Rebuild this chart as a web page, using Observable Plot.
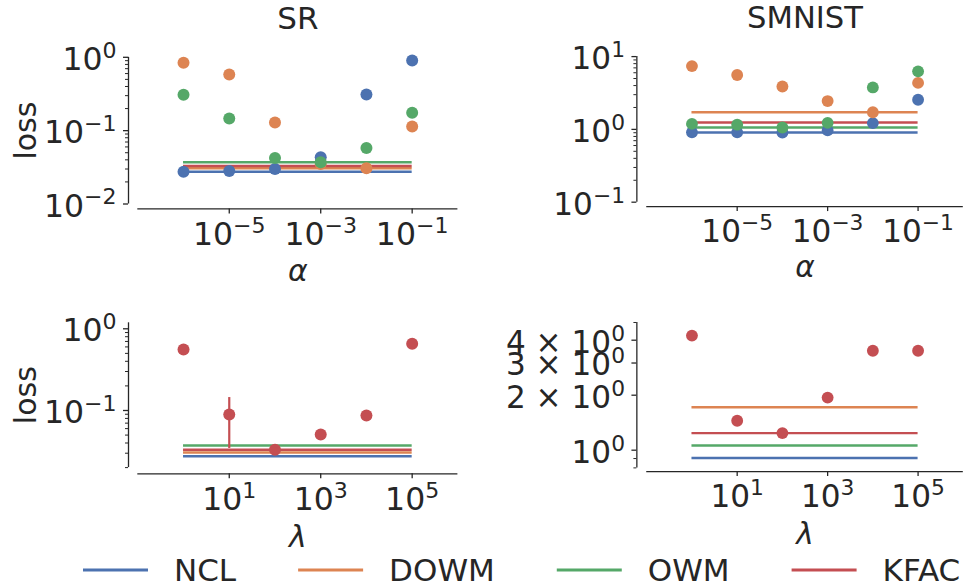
<!DOCTYPE html>
<html>
<head>
<meta charset="utf-8">
<script src="https://cdn.jsdelivr.net/npm/d3@7"></script>
<script src="https://cdn.jsdelivr.net/npm/@observablehq/plot@0.6"></script>
<style>
  html, body { margin: 0; padding: 0; background: #fff; overflow: hidden; }
  #fig { position: relative; width: 964px; height: 588px; overflow: hidden;
         font-family: "DejaVu Sans", sans-serif; color: #262626; }
  .panel { position: absolute; }
  .panel svg { overflow: visible; }
</style>
</head>
<body>
<div id="fig"></div>
<script>
// Hyperparameter grids
const alphas = [1e-6, 1e-5, 1e-4, 1e-3, 1e-2, 1e-1];
const lambdas = [1, 10, 100, 1e3, 1e4, 1e5];

const methods = ["NCL", "DOWM", "OWM", "KFAC"];
const colors = ["#4C72B0", "#DD8452", "#55A868", "#C44E52"];

// SR: loss against α
const srNCL  = [0.0275, 0.0282, 0.0301, 0.0434, 0.311, 0.904];
const srDOWM = [0.841, 0.582, 0.129, 0.0352, 0.0307, 0.1138];
const srOWM  = [0.308, 0.146, 0.0425, 0.0372, 0.0582, 0.175];
// SR: KFAC loss against λ
const srKFAC = [0.558, 0.0893, 0.033, 0.0508, 0.0868, 0.655];
const srKFACErrLambda = [10];
const srKFACErrLow = [0.0343];
const srKFACErrHigh = [0.144];

// SMNIST: loss against α
const smNCL  = [0.91, 0.91, 0.907, 0.969, 1.22, 2.55];
const smDOWM = [7.40, 5.58, 3.88, 2.45, 1.72, 4.35];
const smOWM  = [1.19, 1.16, 1.06, 1.23, 3.77, 6.27];
// SMNIST: KFAC loss against λ
const smKFAC = [4.24, 1.45, 1.24, 1.94, 3.50, 3.50];

// Tick values
const decadeMinors = (lo, hi) => d3.range(lo, hi).flatMap(e => d3.range(2, 10).map(m => +(m * 10 ** e).toPrecision(3)));
const alphaTicks = [1e-5, 1e-3, 1e-1];
const lambdaTicks = [10, 1e3, 1e5];

const INK = "#262626";
const FONT = 30;
const TICK_FONT = 31.5;

const expFmt = v => "10^" + Math.round(Math.log10(v));
const mantFmt = v => (v === 1 ? "10^0" : `${v} × 10^0`);

function rowsOf(xs, ys, method) {
  return xs.map((x, i) => ({x, v: ys[i], method}));
}

// Best value of each method, drawn as a flat reference line
function bestRows(series) {
  return methods.map((m, i) => ({method: m, v: d3.min(series[i])}));
}

// Turn "10^-3" style labels into base + raised exponent
function superscripts(svg) {
  d3.select(svg).selectAll("text").each(function () {
    const s = this.textContent;
    const k = s.indexOf("^");
    if (k < 0) return;
    const base = s.slice(0, k);
    const exp = s.slice(k + 1).replace("-", "\u2212");
    this.textContent = "";
    this.appendChild(document.createTextNode(base));
    const t = document.createElementNS("http://www.w3.org/2000/svg", "tspan");
    t.setAttribute("font-size", "70%");
    t.setAttribute("dy", "-0.55em");
    t.textContent = exp;
    this.appendChild(t);
  });
  d3.select(svg).selectAll('g[aria-label="y-axis tick label"] text').attr("y", "0.4em");
}

function panel(o) {
  const [x0, x1] = o.xRange;
  const [yb, yt] = o.yRange;
  const marks = [
    // spines
    Plot.ruleX([o.xDomain[0]], {x: d => d, y1: () => o.yDomain[0], y2: () => o.yDomain[1],
      dx: o.spineDx, stroke: INK, strokeWidth: 1.3}),
    Plot.ruleY([o.yDomain[0]], {y: d => d, x1: () => o.xDomain[0], x2: () => o.xDomain[1],
      dy: o.spineDy, stroke: INK, strokeWidth: 1.3}),
    // axes
    Plot.axisY({ticks: o.yMajor, tickSize: 5, tickPadding: 7, dx: o.spineDx, tickFormat: o.yFormat,
      fontSize: TICK_FONT, stroke: INK, fill: INK, strokeWidth: 1.3, label: null}),
    Plot.axisY({ticks: o.yMinor, tickSize: 3, dx: o.spineDx, stroke: INK, fill: "none",
      strokeWidth: 1, label: null}),
    Plot.axisX({ticks: o.xTicks, tickSize: 5, tickPadding: 8.5, dy: o.spineDy, tickFormat: expFmt,
      fontSize: TICK_FONT, stroke: INK, fill: INK, strokeWidth: 1.3, label: null}),
    // best-value reference lines
    Plot.ruleY(o.best, {y: "v", x1: () => o.lineFrom, x2: () => o.lineTo, stroke: "method", strokeWidth: 2.5}),
    // error bars and points
    ...(o.errs ? [Plot.ruleX(o.errs, {x: "x", y1: "lo", y2: "hi", stroke: "method", strokeWidth: 2.2})] : []),
    Plot.dot(o.points, {x: "x", y: "v", fill: "method", r: 6, stroke: null}),
    // axis titles
    Plot.text([o.xLabel], {frameAnchor: "bottom", lineAnchor: "bottom", dy: o.xLabelBase - yb,
      fontSize: FONT, fontStyle: "italic", fill: INK})
  ];
  if (o.yLabel) marks.push(Plot.text([o.yLabel], {frameAnchor: "left", rotate: -90, textAnchor: "middle",
      lineAnchor: "bottom", dx: 35 - x0, fontSize: FONT, fill: INK}));
  if (o.title) marks.push(Plot.text([o.title], {frameAnchor: "top", lineAnchor: "bottom",
      dy: o.titleBase - yt, fontSize: 31, fill: INK}));

  const svg = Plot.plot({
    width: o.width, height: o.height,
    marginLeft: x0, marginRight: o.width - x1,
    marginTop: yt, marginBottom: o.height - yb,
    x: {type: "log", domain: o.xDomain, label: null},
    y: {type: "log", domain: o.yDomain, label: null},
    color: {domain: methods, range: colors},
    style: {fontFamily: "DejaVu Sans, sans-serif", fontSize: FONT + "px", color: INK, background: "transparent"},
    marks
  });
  superscripts(svg);
  const div = document.createElement("div");
  div.className = "panel";
  div.style.left = o.left + "px";
  div.style.top = o.top + "px";
  div.appendChild(svg);
  document.getElementById("fig").appendChild(div);
}

const srBest = bestRows([srNCL, srDOWM, srOWM, srKFAC]);
const smBest = bestRows([smNCL, smDOWM, smOWM, smKFAC]);

const alphaPoints = (a, b, c) => [...rowsOf(alphas, a, "NCL"), ...rowsOf(alphas, b, "DOWM"), ...rowsOf(alphas, c, "OWM")];

// SR, α sweep
panel({
  left: 0, top: 0, width: 480, height: 290,
  xDomain: [1e-7, 1], xRange: [137.3, 457.4],
  yDomain: [1e-2, 1], yRange: [203.5, 56.8],
  spineDx: -9.3, spineDy: 4.9,
  yMajor: [1e-2, 1e-1, 1], yMinor: decadeMinors(-2, 0), yFormat: expFmt,
  xTicks: alphaTicks, lineFrom: alphas[0], lineTo: alphas[alphas.length - 1],
  best: srBest, points: alphaPoints(srNCL, srDOWM, srOWM),
  title: "SR", titleBase: 28.3, xLabel: "α", xLabelBase: 280, yLabel: "loss"
});

// SMNIST, α sweep
panel({
  left: 480, top: 0, width: 490, height: 290,
  xDomain: [1e-7, 1], xRange: [168.3, 488.8],
  yDomain: [1e-1, 10], yRange: [204.2, 56.8],
  spineDx: -10, spineDy: 4.5,
  yMajor: [1e-1, 1, 10], yMinor: decadeMinors(-1, 1), yFormat: expFmt,
  xTicks: alphaTicks, lineFrom: alphas[0], lineTo: alphas[alphas.length - 1],
  best: smBest, points: alphaPoints(smNCL, smDOWM, smOWM),
  title: "SMNIST", titleBase: 28.3, xLabel: "α", xLabelBase: 280
});

// SR, λ sweep (KFAC)
panel({
  left: 0, top: 290, width: 480, height: 270,
  xDomain: [0.1, 1e6], xRange: [137.3, 457.4],
  yDomain: [0.02, 1.184], yRange: [177.1, 32.3],
  spineDx: -9.3, spineDy: 6.2,
  yMajor: [0.1, 1], yMinor: decadeMinors(-2, 0).filter(v => v >= 0.02), yFormat: expFmt,
  xTicks: lambdaTicks, lineFrom: lambdas[0], lineTo: lambdas[lambdas.length - 1],
  best: srBest, points: rowsOf(lambdas, srKFAC, "KFAC"),
  errs: srKFACErrLambda.map((x, i) => ({x, lo: srKFACErrLow[i], hi: srKFACErrHigh[i], method: "KFAC"})),
  xLabel: "λ", xLabelBase: 256.7, yLabel: "loss"
});

// SMNIST, λ sweep (KFAC)
panel({
  left: 480, top: 290, width: 490, height: 270,
  xDomain: [0.1, 1e6], xRange: [168.3, 488.8],
  yDomain: [0.8, 5], yRange: [179.6, 32.4],
  spineDx: -10, spineDy: 3.7,
  yMajor: [1, 2, 3, 4], yMinor: [0.8, 0.9, 5], yFormat: mantFmt,
  xTicks: lambdaTicks, lineFrom: lambdas[0], lineTo: lambdas[lambdas.length - 1],
  best: smBest, points: rowsOf(lambdas, smKFAC, "KFAC"),
  xLabel: "λ", xLabelBase: 256.7
});

// Legend: line swatches with method names
(function legend() {
  const svg = d3.select("#fig").append("svg")
    .attr("width", 964).attr("height", 40)
    .style("position", "absolute").style("left", "0px").style("top", "550px");
  let x = 83;
  methods.forEach((m, i) => {
    svg.append("line").attr("x1", x).attr("x2", x + 65).attr("y1", 20).attr("y2", 20)
      .attr("stroke", colors[i]).attr("stroke-width", 3);
    const t = svg.append("text").attr("x", x + 91).attr("y", 31)
      .attr("font-family", "DejaVu Sans, sans-serif").attr("font-size", 31).attr("fill", INK).text(m);
    x += 91 + t.node().getComputedTextLength() + 62;
  });
})();
</script>
</body>
</html>
